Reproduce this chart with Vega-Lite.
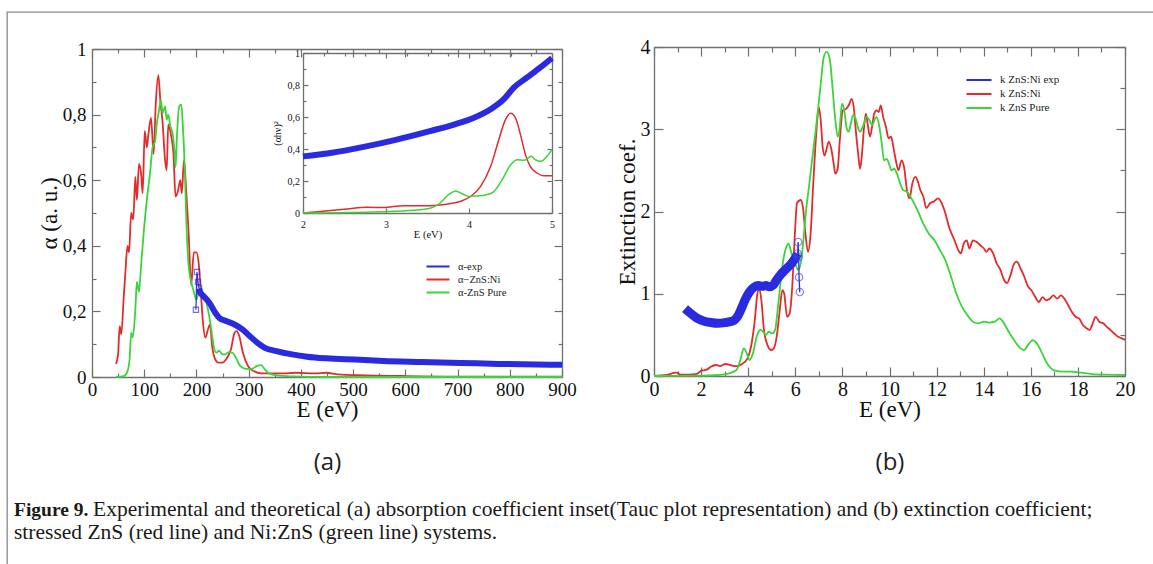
{
  "$schema": "https://vega.github.io/schema/vega-lite/v6.json",
  "width": 1151,
  "height": 557,
  "padding": {"left": 7, "top": 12, "right": -5, "bottom": -5},
  "autosize": {"type": "none"},
  "background": "white",
  "config": {
    "view": {"stroke": "#8a8a8a", "strokeWidth": 1.3},
    "locale": {"number": {"decimal": ",", "thousands": ".", "grouping": [3], "currency": ["", ""]}},
    "axis": {
      "grid": false,
      "domainColor": "#707070",
      "domainWidth": 1.3,
      "tickColor": "#707070",
      "tickWidth": 1.2,
      "labelFont": "Liberation Serif",
      "labelColor": "#111111",
      "labelFlush": false,
      "labelOverlap": false,
      "titleFont": "Liberation Serif",
      "titleFontWeight": "normal",
      "titleColor": "#111111"
    },
    "legend": {
      "orient": "none",
      "title": null,
      "symbolType": "stroke",
      "symbolStrokeWidth": 2.5,
      "labelFont": "Liberation Serif",
      "labelColor": "#222222",
      "padding": 0,
      "rowPadding": 0
    }
  },
  "datasets": {
    "absorption_theory": [
      {"series": "α−ZnS:Ni", "E": 46, "alpha": 0.04}, {"series": "α−ZnS:Ni", "E": 50, "alpha": 0.07},
      {"series": "α−ZnS:Ni", "E": 53, "alpha": 0.155}, {"series": "α−ZnS:Ni", "E": 56, "alpha": 0.13},
      {"series": "α−ZnS:Ni", "E": 61, "alpha": 0.25}, {"series": "α−ZnS:Ni", "E": 64, "alpha": 0.32},
      {"series": "α−ZnS:Ni", "E": 68, "alpha": 0.40}, {"series": "α−ZnS:Ni", "E": 71, "alpha": 0.38},
      {"series": "α−ZnS:Ni", "E": 75, "alpha": 0.50}, {"series": "α−ZnS:Ni", "E": 79, "alpha": 0.48},
      {"series": "α−ZnS:Ni", "E": 83, "alpha": 0.61}, {"series": "α−ZnS:Ni", "E": 86, "alpha": 0.54},
      {"series": "α−ZnS:Ni", "E": 90, "alpha": 0.65}, {"series": "α−ZnS:Ni", "E": 94, "alpha": 0.62},
      {"series": "α−ZnS:Ni", "E": 97, "alpha": 0.56}, {"series": "α−ZnS:Ni", "E": 101, "alpha": 0.75},
      {"series": "α−ZnS:Ni", "E": 105, "alpha": 0.70}, {"series": "α−ZnS:Ni", "E": 108, "alpha": 0.74},
      {"series": "α−ZnS:Ni", "E": 113, "alpha": 0.79}, {"series": "α−ZnS:Ni", "E": 118, "alpha": 0.68},
      {"series": "α−ZnS:Ni", "E": 122, "alpha": 0.83}, {"series": "α−ZnS:Ni", "E": 127, "alpha": 0.92},
      {"series": "α−ZnS:Ni", "E": 131, "alpha": 0.84}, {"series": "α−ZnS:Ni", "E": 135, "alpha": 0.78},
      {"series": "α−ZnS:Ni", "E": 140, "alpha": 0.66}, {"series": "α−ZnS:Ni", "E": 143, "alpha": 0.63},
      {"series": "α−ZnS:Ni", "E": 146, "alpha": 0.77}, {"series": "α−ZnS:Ni", "E": 151, "alpha": 0.74},
      {"series": "α−ZnS:Ni", "E": 156, "alpha": 0.68}, {"series": "α−ZnS:Ni", "E": 160, "alpha": 0.55},
      {"series": "α−ZnS:Ni", "E": 165, "alpha": 0.57}, {"series": "α−ZnS:Ni", "E": 169, "alpha": 0.60},
      {"series": "α−ZnS:Ni", "E": 172, "alpha": 0.56}, {"series": "α−ZnS:Ni", "E": 176, "alpha": 0.66},
      {"series": "α−ZnS:Ni", "E": 180, "alpha": 0.58}, {"series": "α−ZnS:Ni", "E": 185, "alpha": 0.44},
      {"series": "α−ZnS:Ni", "E": 190, "alpha": 0.28}, {"series": "α−ZnS:Ni", "E": 195, "alpha": 0.38},
      {"series": "α−ZnS:Ni", "E": 200, "alpha": 0.38}, {"series": "α−ZnS:Ni", "E": 204, "alpha": 0.35},
      {"series": "α−ZnS:Ni", "E": 208, "alpha": 0.27}, {"series": "α−ZnS:Ni", "E": 212, "alpha": 0.175},
      {"series": "α−ZnS:Ni", "E": 217, "alpha": 0.12}, {"series": "α−ZnS:Ni", "E": 222, "alpha": 0.145},
      {"series": "α−ZnS:Ni", "E": 226, "alpha": 0.16}, {"series": "α−ZnS:Ni", "E": 230, "alpha": 0.094},
      {"series": "α−ZnS:Ni", "E": 236, "alpha": 0.054}, {"series": "α−ZnS:Ni", "E": 242, "alpha": 0.044},
      {"series": "α−ZnS:Ni", "E": 250, "alpha": 0.044}, {"series": "α−ZnS:Ni", "E": 257, "alpha": 0.054},
      {"series": "α−ZnS:Ni", "E": 266, "alpha": 0.084}, {"series": "α−ZnS:Ni", "E": 273, "alpha": 0.135},
      {"series": "α−ZnS:Ni", "E": 277, "alpha": 0.14}, {"series": "α−ZnS:Ni", "E": 282, "alpha": 0.125},
      {"series": "α−ZnS:Ni", "E": 289, "alpha": 0.074}, {"series": "α−ZnS:Ni", "E": 299, "alpha": 0.033},
      {"series": "α−ZnS:Ni", "E": 310, "alpha": 0.018}, {"series": "α−ZnS:Ni", "E": 324, "alpha": 0.011},
      {"series": "α−ZnS:Ni", "E": 339, "alpha": 0.011}, {"series": "α−ZnS:Ni", "E": 368, "alpha": 0.011},
      {"series": "α−ZnS:Ni", "E": 390, "alpha": 0.013}, {"series": "α−ZnS:Ni", "E": 427, "alpha": 0.011},
      {"series": "α−ZnS:Ni", "E": 449, "alpha": 0.013}, {"series": "α−ZnS:Ni", "E": 470, "alpha": 0.008},
      {"series": "α−ZnS:Ni", "E": 522, "alpha": 0.005}, {"series": "α−ZnS:Ni", "E": 595, "alpha": 0.003},
      {"series": "α−ZnS:Ni", "E": 631, "alpha": 0.002}, {"series": "α−ZnS:Ni", "E": 700, "alpha": 0.001},
      {"series": "α−ZnS:Ni", "E": 900, "alpha": 0.001},
      {"series": "α-ZnS Pure", "E": 46, "alpha": 0}, {"series": "α-ZnS Pure", "E": 61, "alpha": 0.003},
      {"series": "α-ZnS Pure", "E": 68, "alpha": 0.018}, {"series": "α-ZnS Pure", "E": 72, "alpha": 0.054},
      {"series": "α-ZnS Pure", "E": 75, "alpha": 0.135}, {"series": "α-ZnS Pure", "E": 78, "alpha": 0.12},
      {"series": "α-ZnS Pure", "E": 83, "alpha": 0.206}, {"series": "α-ZnS Pure", "E": 86, "alpha": 0.29},
      {"series": "α-ZnS Pure", "E": 90, "alpha": 0.26}, {"series": "α-ZnS Pure", "E": 94, "alpha": 0.34},
      {"series": "α-ZnS Pure", "E": 99, "alpha": 0.44}, {"series": "α-ZnS Pure", "E": 105, "alpha": 0.54},
      {"series": "α-ZnS Pure", "E": 111, "alpha": 0.62}, {"series": "α-ZnS Pure", "E": 116, "alpha": 0.70},
      {"series": "α-ZnS Pure", "E": 121, "alpha": 0.72}, {"series": "α-ZnS Pure", "E": 124, "alpha": 0.77},
      {"series": "α-ZnS Pure", "E": 128, "alpha": 0.81}, {"series": "α-ZnS Pure", "E": 132, "alpha": 0.845},
      {"series": "α-ZnS Pure", "E": 135, "alpha": 0.805}, {"series": "α-ZnS Pure", "E": 140, "alpha": 0.825},
      {"series": "α-ZnS Pure", "E": 143, "alpha": 0.785}, {"series": "α-ZnS Pure", "E": 146, "alpha": 0.80},
      {"series": "α-ZnS Pure", "E": 150, "alpha": 0.765}, {"series": "α-ZnS Pure", "E": 154, "alpha": 0.745},
      {"series": "α-ZnS Pure", "E": 158, "alpha": 0.69}, {"series": "α-ZnS Pure", "E": 160, "alpha": 0.64},
      {"series": "α-ZnS Pure", "E": 163, "alpha": 0.745}, {"series": "α-ZnS Pure", "E": 167, "alpha": 0.825},
      {"series": "α-ZnS Pure", "E": 171, "alpha": 0.83}, {"series": "α-ZnS Pure", "E": 174, "alpha": 0.765},
      {"series": "α-ZnS Pure", "E": 178, "alpha": 0.62}, {"series": "α-ZnS Pure", "E": 181, "alpha": 0.46},
      {"series": "α-ZnS Pure", "E": 185, "alpha": 0.34}, {"series": "α-ZnS Pure", "E": 190, "alpha": 0.29},
      {"series": "α-ZnS Pure", "E": 195, "alpha": 0.26}, {"series": "α-ZnS Pure", "E": 200, "alpha": 0.235},
      {"series": "α-ZnS Pure", "E": 203, "alpha": 0.255}, {"series": "α-ZnS Pure", "E": 208, "alpha": 0.27},
      {"series": "α-ZnS Pure", "E": 213, "alpha": 0.257}, {"series": "α-ZnS Pure", "E": 218, "alpha": 0.235},
      {"series": "α-ZnS Pure", "E": 222, "alpha": 0.206}, {"series": "α-ZnS Pure", "E": 228, "alpha": 0.15},
      {"series": "α-ZnS Pure", "E": 233, "alpha": 0.094}, {"series": "α-ZnS Pure", "E": 238, "alpha": 0.074},
      {"series": "α-ZnS Pure", "E": 243, "alpha": 0.08}, {"series": "α-ZnS Pure", "E": 250, "alpha": 0.069},
      {"series": "α-ZnS Pure", "E": 256, "alpha": 0.069}, {"series": "α-ZnS Pure", "E": 262, "alpha": 0.076},
      {"series": "α-ZnS Pure", "E": 269, "alpha": 0.074}, {"series": "α-ZnS Pure", "E": 277, "alpha": 0.054},
      {"series": "α-ZnS Pure", "E": 284, "alpha": 0.033}, {"series": "α-ZnS Pure", "E": 295, "alpha": 0.025},
      {"series": "α-ZnS Pure", "E": 306, "alpha": 0.025}, {"series": "α-ZnS Pure", "E": 315, "alpha": 0.033},
      {"series": "α-ZnS Pure", "E": 324, "alpha": 0.036}, {"series": "α-ZnS Pure", "E": 331, "alpha": 0.023},
      {"series": "α-ZnS Pure", "E": 339, "alpha": 0.011}, {"series": "α-ZnS Pure", "E": 354, "alpha": 0.005},
      {"series": "α-ZnS Pure", "E": 383, "alpha": 0.002}, {"series": "α-ZnS Pure", "E": 450, "alpha": 0},
      {"series": "α-ZnS Pure", "E": 900, "alpha": 0}
    ],
    "absorption_exp": [
      {"E": 205, "alpha": 0.27}, {"E": 207, "alpha": 0.257}, {"E": 214, "alpha": 0.246}, {"E": 225, "alpha": 0.226},
      {"E": 236, "alpha": 0.196}, {"E": 244, "alpha": 0.18}, {"E": 258, "alpha": 0.17}, {"E": 273, "alpha": 0.16},
      {"E": 288, "alpha": 0.145}, {"E": 302, "alpha": 0.125}, {"E": 317, "alpha": 0.104}, {"E": 331, "alpha": 0.089},
      {"E": 353, "alpha": 0.079}, {"E": 383, "alpha": 0.069}, {"E": 412, "alpha": 0.062}, {"E": 449, "alpha": 0.057},
      {"E": 485, "alpha": 0.054}, {"E": 522, "alpha": 0.052}, {"E": 558, "alpha": 0.049}, {"E": 631, "alpha": 0.046},
      {"E": 705, "alpha": 0.043}, {"E": 778, "alpha": 0.040}, {"E": 851, "alpha": 0.038}, {"E": 900, "alpha": 0.037}
    ],
    "absorption_exp_markers": [
      {"E": 199, "alpha": 0.205}, {"E": 201, "alpha": 0.32}, {"E": 203, "alpha": 0.29}, {"E": 205, "alpha": 0.27}
    ],
    "tauc_theory": [
      {"series": "ZnS:Ni", "E": 2.0, "tauc": 0}, {"series": "ZnS:Ni", "E": 2.21, "tauc": 0.01},
      {"series": "ZnS:Ni", "E": 2.53, "tauc": 0.025}, {"series": "ZnS:Ni", "E": 2.77, "tauc": 0.036},
      {"series": "ZnS:Ni", "E": 2.97, "tauc": 0.034}, {"series": "ZnS:Ni", "E": 3.21, "tauc": 0.046},
      {"series": "ZnS:Ni", "E": 3.53, "tauc": 0.046}, {"series": "ZnS:Ni", "E": 3.73, "tauc": 0.055},
      {"series": "ZnS:Ni", "E": 3.90, "tauc": 0.073}, {"series": "ZnS:Ni", "E": 4.02, "tauc": 0.103},
      {"series": "ZnS:Ni", "E": 4.14, "tauc": 0.166}, {"series": "ZnS:Ni", "E": 4.26, "tauc": 0.29},
      {"series": "ZnS:Ni", "E": 4.36, "tauc": 0.46}, {"series": "ZnS:Ni", "E": 4.44, "tauc": 0.585},
      {"series": "ZnS:Ni", "E": 4.50, "tauc": 0.623}, {"series": "ZnS:Ni", "E": 4.56, "tauc": 0.595},
      {"series": "ZnS:Ni", "E": 4.62, "tauc": 0.49}, {"series": "ZnS:Ni", "E": 4.68, "tauc": 0.365},
      {"series": "ZnS:Ni", "E": 4.74, "tauc": 0.29}, {"series": "ZnS:Ni", "E": 4.82, "tauc": 0.25},
      {"series": "ZnS:Ni", "E": 4.90, "tauc": 0.233}, {"series": "ZnS:Ni", "E": 5.0, "tauc": 0.233},
      {"series": "ZnS Pure", "E": 2.0, "tauc": 0}, {"series": "ZnS Pure", "E": 2.93, "tauc": 0.008},
      {"series": "ZnS Pure", "E": 3.33, "tauc": 0.017}, {"series": "ZnS Pure", "E": 3.53, "tauc": 0.03},
      {"series": "ZnS Pure", "E": 3.65, "tauc": 0.061}, {"series": "ZnS Pure", "E": 3.75, "tauc": 0.113},
      {"series": "ZnS Pure", "E": 3.84, "tauc": 0.138}, {"series": "ZnS Pure", "E": 3.92, "tauc": 0.12},
      {"series": "ZnS Pure", "E": 4.0, "tauc": 0.103}, {"series": "ZnS Pure", "E": 4.10, "tauc": 0.107},
      {"series": "ZnS Pure", "E": 4.20, "tauc": 0.113}, {"series": "ZnS Pure", "E": 4.30, "tauc": 0.134},
      {"series": "ZnS Pure", "E": 4.40, "tauc": 0.208}, {"series": "ZnS Pure", "E": 4.50, "tauc": 0.30},
      {"series": "ZnS Pure", "E": 4.58, "tauc": 0.333}, {"series": "ZnS Pure", "E": 4.66, "tauc": 0.329},
      {"series": "ZnS Pure", "E": 4.75, "tauc": 0.354}, {"series": "ZnS Pure", "E": 4.80, "tauc": 0.333},
      {"series": "ZnS Pure", "E": 4.87, "tauc": 0.323}, {"series": "ZnS Pure", "E": 4.94, "tauc": 0.354},
      {"series": "ZnS Pure", "E": 5.0, "tauc": 0.396}
    ],
    "tauc_exp": [
      {"E": 2.0, "tauc": 0.354}, {"E": 2.33, "tauc": 0.375}, {"E": 2.73, "tauc": 0.413}, {"E": 3.13, "tauc": 0.459},
      {"E": 3.53, "tauc": 0.512}, {"E": 3.82, "tauc": 0.553}, {"E": 4.06, "tauc": 0.595}, {"E": 4.26, "tauc": 0.648},
      {"E": 4.42, "tauc": 0.711}, {"E": 4.54, "tauc": 0.784}, {"E": 4.70, "tauc": 0.847}, {"E": 4.86, "tauc": 0.91},
      {"E": 5.0, "tauc": 0.969}
    ],
    "extinction_theory": [
      {"series": "k ZnS:Ni", "E": 0, "k": 0}, {"series": "k ZnS:Ni", "E": 0.54, "k": 0.012},
      {"series": "k ZnS:Ni", "E": 0.93, "k": 0.04}, {"series": "k ZnS:Ni", "E": 1.17, "k": 0.016},
      {"series": "k ZnS:Ni", "E": 1.79, "k": 0.024}, {"series": "k ZnS:Ni", "E": 2.02, "k": 0.065},
      {"series": "k ZnS:Ni", "E": 2.26, "k": 0.08}, {"series": "k ZnS:Ni", "E": 2.41, "k": 0.113},
      {"series": "k ZnS:Ni", "E": 2.65, "k": 0.134}, {"series": "k ZnS:Ni", "E": 2.80, "k": 0.12},
      {"series": "k ZnS:Ni", "E": 3.03, "k": 0.146}, {"series": "k ZnS:Ni", "E": 3.27, "k": 0.13},
      {"series": "k ZnS:Ni", "E": 3.50, "k": 0.12}, {"series": "k ZnS:Ni", "E": 3.74, "k": 0.146},
      {"series": "k ZnS:Ni", "E": 3.97, "k": 0.215}, {"series": "k ZnS:Ni", "E": 4.12, "k": 0.356},
      {"series": "k ZnS:Ni", "E": 4.28, "k": 0.68}, {"series": "k ZnS:Ni", "E": 4.39, "k": 1.0},
      {"series": "k ZnS:Ni", "E": 4.47, "k": 1.065}, {"series": "k ZnS:Ni", "E": 4.56, "k": 0.92},
      {"series": "k ZnS:Ni", "E": 4.67, "k": 0.56}, {"series": "k ZnS:Ni", "E": 4.82, "k": 0.376},
      {"series": "k ZnS:Ni", "E": 4.98, "k": 0.316}, {"series": "k ZnS:Ni", "E": 5.09, "k": 0.336},
      {"series": "k ZnS:Ni", "E": 5.21, "k": 0.478}, {"series": "k ZnS:Ni", "E": 5.34, "k": 0.80},
      {"series": "k ZnS:Ni", "E": 5.45, "k": 1.045}, {"series": "k ZnS:Ni", "E": 5.53, "k": 1.0},
      {"series": "k ZnS:Ni", "E": 5.65, "k": 0.72}, {"series": "k ZnS:Ni", "E": 5.76, "k": 0.76},
      {"series": "k ZnS:Ni", "E": 5.87, "k": 1.085}, {"series": "k ZnS:Ni", "E": 5.99, "k": 1.77},
      {"series": "k ZnS:Ni", "E": 6.07, "k": 2.10}, {"series": "k ZnS:Ni", "E": 6.23, "k": 2.14},
      {"series": "k ZnS:Ni", "E": 6.33, "k": 2.04}, {"series": "k ZnS:Ni", "E": 6.43, "k": 1.73},
      {"series": "k ZnS:Ni", "E": 6.54, "k": 1.51}, {"series": "k ZnS:Ni", "E": 6.65, "k": 1.73},
      {"series": "k ZnS:Ni", "E": 6.77, "k": 2.38}, {"series": "k ZnS:Ni", "E": 6.89, "k": 2.95},
      {"series": "k ZnS:Ni", "E": 7.00, "k": 3.27}, {"series": "k ZnS:Ni", "E": 7.08, "k": 3.11},
      {"series": "k ZnS:Ni", "E": 7.16, "k": 2.79}, {"series": "k ZnS:Ni", "E": 7.24, "k": 2.68},
      {"series": "k ZnS:Ni", "E": 7.31, "k": 2.74}, {"series": "k ZnS:Ni", "E": 7.42, "k": 2.85},
      {"series": "k ZnS:Ni", "E": 7.52, "k": 2.77}, {"series": "k ZnS:Ni", "E": 7.63, "k": 2.58},
      {"series": "k ZnS:Ni", "E": 7.70, "k": 2.46}, {"series": "k ZnS:Ni", "E": 7.80, "k": 2.52},
      {"series": "k ZnS:Ni", "E": 7.89, "k": 2.87}, {"series": "k ZnS:Ni", "E": 8.02, "k": 3.23},
      {"series": "k ZnS:Ni", "E": 8.17, "k": 3.25}, {"series": "k ZnS:Ni", "E": 8.30, "k": 3.31},
      {"series": "k ZnS:Ni", "E": 8.39, "k": 3.37}, {"series": "k ZnS:Ni", "E": 8.48, "k": 3.27},
      {"series": "k ZnS:Ni", "E": 8.58, "k": 2.95}, {"series": "k ZnS:Ni", "E": 8.67, "k": 2.70},
      {"series": "k ZnS:Ni", "E": 8.75, "k": 2.52}, {"series": "k ZnS:Ni", "E": 8.82, "k": 2.66},
      {"series": "k ZnS:Ni", "E": 8.92, "k": 3.03}, {"series": "k ZnS:Ni", "E": 9.00, "k": 3.19},
      {"series": "k ZnS:Ni", "E": 9.07, "k": 3.07}, {"series": "k ZnS:Ni", "E": 9.17, "k": 2.91},
      {"series": "k ZnS:Ni", "E": 9.26, "k": 3.03}, {"series": "k ZnS:Ni", "E": 9.35, "k": 3.19},
      {"series": "k ZnS:Ni", "E": 9.45, "k": 3.23}, {"series": "k ZnS:Ni", "E": 9.54, "k": 3.21},
      {"series": "k ZnS:Ni", "E": 9.63, "k": 3.29}, {"series": "k ZnS:Ni", "E": 9.73, "k": 3.15},
      {"series": "k ZnS:Ni", "E": 9.85, "k": 3.03}, {"series": "k ZnS:Ni", "E": 9.96, "k": 2.89},
      {"series": "k ZnS:Ni", "E": 10.07, "k": 2.91}, {"series": "k ZnS:Ni", "E": 10.16, "k": 2.79},
      {"series": "k ZnS:Ni", "E": 10.27, "k": 2.62}, {"series": "k ZnS:Ni", "E": 10.38, "k": 2.50},
      {"series": "k ZnS:Ni", "E": 10.51, "k": 2.62}, {"series": "k ZnS:Ni", "E": 10.63, "k": 2.52},
      {"series": "k ZnS:Ni", "E": 10.74, "k": 2.26}, {"series": "k ZnS:Ni", "E": 10.85, "k": 2.16},
      {"series": "k ZnS:Ni", "E": 10.97, "k": 2.34}, {"series": "k ZnS:Ni", "E": 11.10, "k": 2.42},
      {"series": "k ZnS:Ni", "E": 11.21, "k": 2.36}, {"series": "k ZnS:Ni", "E": 11.31, "k": 2.26},
      {"series": "k ZnS:Ni", "E": 11.44, "k": 2.18}, {"series": "k ZnS:Ni", "E": 11.56, "k": 2.04},
      {"series": "k ZnS:Ni", "E": 11.72, "k": 2.10}, {"series": "k ZnS:Ni", "E": 11.88, "k": 2.12},
      {"series": "k ZnS:Ni", "E": 12.06, "k": 2.16}, {"series": "k ZnS:Ni", "E": 12.22, "k": 2.10},
      {"series": "k ZnS:Ni", "E": 12.37, "k": 1.98}, {"series": "k ZnS:Ni", "E": 12.53, "k": 1.81},
      {"series": "k ZnS:Ni", "E": 12.76, "k": 1.65}, {"series": "k ZnS:Ni", "E": 12.92, "k": 1.53},
      {"series": "k ZnS:Ni", "E": 13.03, "k": 1.49}, {"series": "k ZnS:Ni", "E": 13.15, "k": 1.61},
      {"series": "k ZnS:Ni", "E": 13.28, "k": 1.65}, {"series": "k ZnS:Ni", "E": 13.39, "k": 1.55},
      {"series": "k ZnS:Ni", "E": 13.54, "k": 1.65}, {"series": "k ZnS:Ni", "E": 13.70, "k": 1.63},
      {"series": "k ZnS:Ni", "E": 13.85, "k": 1.59}, {"series": "k ZnS:Ni", "E": 14.01, "k": 1.55},
      {"series": "k ZnS:Ni", "E": 14.12, "k": 1.51}, {"series": "k ZnS:Ni", "E": 14.24, "k": 1.55},
      {"series": "k ZnS:Ni", "E": 14.40, "k": 1.49}, {"series": "k ZnS:Ni", "E": 14.55, "k": 1.37},
      {"series": "k ZnS:Ni", "E": 14.71, "k": 1.29}, {"series": "k ZnS:Ni", "E": 14.86, "k": 1.17},
      {"series": "k ZnS:Ni", "E": 14.99, "k": 1.13}, {"series": "k ZnS:Ni", "E": 15.14, "k": 1.23},
      {"series": "k ZnS:Ni", "E": 15.30, "k": 1.37}, {"series": "k ZnS:Ni", "E": 15.41, "k": 1.39},
      {"series": "k ZnS:Ni", "E": 15.56, "k": 1.31}, {"series": "k ZnS:Ni", "E": 15.72, "k": 1.21},
      {"series": "k ZnS:Ni", "E": 15.88, "k": 1.09}, {"series": "k ZnS:Ni", "E": 16.03, "k": 1.04},
      {"series": "k ZnS:Ni", "E": 16.19, "k": 0.96}, {"series": "k ZnS:Ni", "E": 16.34, "k": 0.90},
      {"series": "k ZnS:Ni", "E": 16.50, "k": 0.96}, {"series": "k ZnS:Ni", "E": 16.65, "k": 0.92},
      {"series": "k ZnS:Ni", "E": 16.81, "k": 0.94}, {"series": "k ZnS:Ni", "E": 16.96, "k": 0.98},
      {"series": "k ZnS:Ni", "E": 17.12, "k": 0.94}, {"series": "k ZnS:Ni", "E": 17.28, "k": 0.98},
      {"series": "k ZnS:Ni", "E": 17.43, "k": 0.94}, {"series": "k ZnS:Ni", "E": 17.59, "k": 0.86},
      {"series": "k ZnS:Ni", "E": 17.74, "k": 0.78}, {"series": "k ZnS:Ni", "E": 17.90, "k": 0.72},
      {"series": "k ZnS:Ni", "E": 18.05, "k": 0.70}, {"series": "k ZnS:Ni", "E": 18.21, "k": 0.62},
      {"series": "k ZnS:Ni", "E": 18.37, "k": 0.58}, {"series": "k ZnS:Ni", "E": 18.49, "k": 0.56},
      {"series": "k ZnS:Ni", "E": 18.63, "k": 0.64}, {"series": "k ZnS:Ni", "E": 18.75, "k": 0.72},
      {"series": "k ZnS:Ni", "E": 18.91, "k": 0.66}, {"series": "k ZnS:Ni", "E": 19.07, "k": 0.64},
      {"series": "k ZnS:Ni", "E": 19.22, "k": 0.60}, {"series": "k ZnS:Ni", "E": 19.38, "k": 0.56},
      {"series": "k ZnS:Ni", "E": 19.53, "k": 0.52}, {"series": "k ZnS:Ni", "E": 19.69, "k": 0.48},
      {"series": "k ZnS:Ni", "E": 19.84, "k": 0.46}, {"series": "k ZnS:Ni", "E": 20.0, "k": 0.44},
      {"series": "k ZnS Pure", "E": 0, "k": 0}, {"series": "k ZnS Pure", "E": 1.95, "k": 0.004},
      {"series": "k ZnS Pure", "E": 2.72, "k": 0.012}, {"series": "k ZnS Pure", "E": 3.19, "k": 0.032},
      {"series": "k ZnS Pure", "E": 3.50, "k": 0.073}, {"series": "k ZnS Pure", "E": 3.69, "k": 0.215},
      {"series": "k ZnS Pure", "E": 3.81, "k": 0.336}, {"series": "k ZnS Pure", "E": 3.94, "k": 0.275},
      {"series": "k ZnS Pure", "E": 4.05, "k": 0.194}, {"series": "k ZnS Pure", "E": 4.20, "k": 0.275},
      {"series": "k ZnS Pure", "E": 4.36, "k": 0.478}, {"series": "k ZnS Pure", "E": 4.51, "k": 0.559},
      {"series": "k ZnS Pure", "E": 4.64, "k": 0.538}, {"series": "k ZnS Pure", "E": 4.75, "k": 0.498},
      {"series": "k ZnS Pure", "E": 4.87, "k": 0.538}, {"series": "k ZnS Pure", "E": 5.01, "k": 0.518},
      {"series": "k ZnS Pure", "E": 5.14, "k": 0.559}, {"series": "k ZnS Pure", "E": 5.25, "k": 0.80},
      {"series": "k ZnS Pure", "E": 5.37, "k": 1.125}, {"series": "k ZnS Pure", "E": 5.49, "k": 1.41},
      {"series": "k ZnS Pure", "E": 5.62, "k": 1.57}, {"series": "k ZnS Pure", "E": 5.71, "k": 1.61},
      {"series": "k ZnS Pure", "E": 5.84, "k": 1.49}, {"series": "k ZnS Pure", "E": 5.99, "k": 1.37},
      {"series": "k ZnS Pure", "E": 6.12, "k": 1.29}, {"series": "k ZnS Pure", "E": 6.23, "k": 1.37},
      {"series": "k ZnS Pure", "E": 6.33, "k": 1.61}, {"series": "k ZnS Pure", "E": 6.46, "k": 2.02},
      {"series": "k ZnS Pure", "E": 6.58, "k": 2.30}, {"series": "k ZnS Pure", "E": 6.71, "k": 2.62},
      {"series": "k ZnS Pure", "E": 6.85, "k": 2.95}, {"series": "k ZnS Pure", "E": 6.96, "k": 3.23},
      {"series": "k ZnS Pure", "E": 7.08, "k": 3.55}, {"series": "k ZnS Pure", "E": 7.21, "k": 3.88},
      {"series": "k ZnS Pure", "E": 7.33, "k": 3.94}, {"series": "k ZnS Pure", "E": 7.46, "k": 3.86},
      {"series": "k ZnS Pure", "E": 7.58, "k": 3.51}, {"series": "k ZnS Pure", "E": 7.70, "k": 3.11},
      {"series": "k ZnS Pure", "E": 7.80, "k": 2.91}, {"series": "k ZnS Pure", "E": 7.89, "k": 3.03},
      {"series": "k ZnS Pure", "E": 7.98, "k": 3.31}, {"series": "k ZnS Pure", "E": 8.08, "k": 3.23},
      {"series": "k ZnS Pure", "E": 8.17, "k": 3.03}, {"series": "k ZnS Pure", "E": 8.26, "k": 2.97},
      {"series": "k ZnS Pure", "E": 8.36, "k": 3.07}, {"series": "k ZnS Pure", "E": 8.45, "k": 3.17},
      {"series": "k ZnS Pure", "E": 8.56, "k": 3.13}, {"series": "k ZnS Pure", "E": 8.67, "k": 3.01},
      {"series": "k ZnS Pure", "E": 8.76, "k": 2.97}, {"series": "k ZnS Pure", "E": 8.89, "k": 3.05},
      {"series": "k ZnS Pure", "E": 9.03, "k": 3.15}, {"series": "k ZnS Pure", "E": 9.15, "k": 3.11},
      {"series": "k ZnS Pure", "E": 9.26, "k": 3.05}, {"series": "k ZnS Pure", "E": 9.39, "k": 3.13},
      {"series": "k ZnS Pure", "E": 9.45, "k": 3.15}, {"series": "k ZnS Pure", "E": 9.57, "k": 3.03},
      {"series": "k ZnS Pure", "E": 9.67, "k": 2.83}, {"series": "k ZnS Pure", "E": 9.77, "k": 2.62},
      {"series": "k ZnS Pure", "E": 9.88, "k": 2.64}, {"series": "k ZnS Pure", "E": 9.98, "k": 2.58},
      {"series": "k ZnS Pure", "E": 10.09, "k": 2.50}, {"series": "k ZnS Pure", "E": 10.19, "k": 2.52},
      {"series": "k ZnS Pure", "E": 10.32, "k": 2.46}, {"series": "k ZnS Pure", "E": 10.43, "k": 2.36},
      {"series": "k ZnS Pure", "E": 10.58, "k": 2.26}, {"series": "k ZnS Pure", "E": 10.74, "k": 2.24},
      {"series": "k ZnS Pure", "E": 10.97, "k": 2.14}, {"series": "k ZnS Pure", "E": 11.21, "k": 2.00},
      {"series": "k ZnS Pure", "E": 11.44, "k": 1.85}, {"series": "k ZnS Pure", "E": 11.67, "k": 1.73},
      {"series": "k ZnS Pure", "E": 11.91, "k": 1.65}, {"series": "k ZnS Pure", "E": 12.14, "k": 1.53},
      {"series": "k ZnS Pure", "E": 12.37, "k": 1.41}, {"series": "k ZnS Pure", "E": 12.61, "k": 1.21},
      {"series": "k ZnS Pure", "E": 12.84, "k": 1.00}, {"series": "k ZnS Pure", "E": 13.08, "k": 0.84},
      {"series": "k ZnS Pure", "E": 13.31, "k": 0.74}, {"series": "k ZnS Pure", "E": 13.54, "k": 0.66},
      {"series": "k ZnS Pure", "E": 13.77, "k": 0.64}, {"series": "k ZnS Pure", "E": 14.01, "k": 0.66},
      {"series": "k ZnS Pure", "E": 14.24, "k": 0.65}, {"series": "k ZnS Pure", "E": 14.47, "k": 0.66},
      {"series": "k ZnS Pure", "E": 14.68, "k": 0.70}, {"series": "k ZnS Pure", "E": 14.86, "k": 0.64},
      {"series": "k ZnS Pure", "E": 15.10, "k": 0.52}, {"series": "k ZnS Pure", "E": 15.33, "k": 0.42},
      {"series": "k ZnS Pure", "E": 15.56, "k": 0.336}, {"series": "k ZnS Pure", "E": 15.72, "k": 0.316},
      {"series": "k ZnS Pure", "E": 15.88, "k": 0.376}, {"series": "k ZnS Pure", "E": 16.08, "k": 0.437},
      {"series": "k ZnS Pure", "E": 16.26, "k": 0.397}, {"series": "k ZnS Pure", "E": 16.45, "k": 0.296},
      {"series": "k ZnS Pure", "E": 16.65, "k": 0.174}, {"series": "k ZnS Pure", "E": 16.86, "k": 0.093},
      {"series": "k ZnS Pure", "E": 17.04, "k": 0.065}, {"series": "k ZnS Pure", "E": 17.35, "k": 0.053},
      {"series": "k ZnS Pure", "E": 17.74, "k": 0.053}, {"series": "k ZnS Pure", "E": 18.13, "k": 0.040},
      {"series": "k ZnS Pure", "E": 18.60, "k": 0.024}, {"series": "k ZnS Pure", "E": 19.22, "k": 0.016},
      {"series": "k ZnS Pure", "E": 20.0, "k": 0.012}
    ],
    "extinction_exp": [
      {"E": 1.32, "k": 0.82}, {"E": 1.48, "k": 0.78}, {"E": 1.79, "k": 0.71}, {"E": 2.10, "k": 0.67},
      {"E": 2.41, "k": 0.65}, {"E": 2.72, "k": 0.64}, {"E": 3.03, "k": 0.65}, {"E": 3.35, "k": 0.67},
      {"E": 3.58, "k": 0.74}, {"E": 3.74, "k": 0.84}, {"E": 3.89, "k": 0.94}, {"E": 4.05, "k": 1.02},
      {"E": 4.25, "k": 1.08}, {"E": 4.44, "k": 1.10}, {"E": 4.59, "k": 1.09}, {"E": 4.75, "k": 1.10},
      {"E": 4.90, "k": 1.085}, {"E": 5.06, "k": 1.105}, {"E": 5.21, "k": 1.17}, {"E": 5.37, "k": 1.23},
      {"E": 5.53, "k": 1.28}, {"E": 5.68, "k": 1.32}, {"E": 5.84, "k": 1.37}, {"E": 5.99, "k": 1.43},
      {"E": 6.10, "k": 1.49}
    ],
    "extinction_exp_markers": [
      {"E": 6.10, "k": 1.49}, {"E": 6.12, "k": 1.63}, {"E": 6.14, "k": 1.45}, {"E": 6.16, "k": 1.20}, {"E": 6.19, "k": 1.02}
    ],
    "caption_head": [
      {"line": 1, "text": "Figure 9."}
    ],
    "caption_body": [
      {"line": 1, "text": "Experimental and theoretical (a) absorption coefficient inset(Tauc plot representation) and (b) extinction coefficient;"},
      {"line": 2, "text": "stressed ZnS (red line) and Ni:ZnS (green line) systems."}
    ]
  },
  "layer": [
    {
      "data": {"name": "absorption_theory"},
      "mark": {"type": "line", "strokeWidth": 1.8, "interpolate": "monotone"},
      "encoding": {
        "x": {
          "field": "E", "type": "quantitative",
          "scale": {"domain": [0, 900], "range": [85, 555], "nice": false, "zero": false},
          "axis": {
            "orient": "bottom", "offset": -192,
            "values": [0, 50, 100, 150, 200, 250, 300, 350, 400, 450, 500, 550, 600, 650, 700, 750, 800, 850, 900],
            "format": "d",
            "labelExpr": "datum.value % 100 === 0 ? datum.label : ''",
            "tickSize": {"condition": {"test": "datum.value % 100 === 0", "value": -8}, "value": -4},
            "labelFont": "Liberation Serif", "labelFontSize": 19, "labelPadding": 11.5,
            "title": "E (eV)", "titleFont": "Liberation Serif", "titleFontSize": 23, "titleY": 39, "titleBaseline": "alphabetic"
          }
        },
        "y": {
          "field": "alpha", "type": "quantitative",
          "scale": {"domain": [0, 1], "range": [365, 37], "nice": false, "zero": false},
          "axis": {
            "orient": "left", "offset": -85,
            "values": [0, 0.1, 0.2, 0.3, 0.4, 0.5, 0.6, 0.7, 0.8, 0.9, 1],
            "format": ".1~f",
            "labelExpr": "abs(datum.value * 5 - round(datum.value * 5)) < 0.001 ? datum.label : ''",
            "tickSize": {"condition": {"test": "abs(datum.value * 5 - round(datum.value * 5)) < 0.001", "value": -8}, "value": -4},
            "labelFont": "Liberation Serif", "labelFontSize": 19, "labelPadding": 14,
            "title": "α (a. u.)", "titleFont": "Liberation Serif", "titleFontSize": 23, "titleX": -36, "titleBaseline": "alphabetic"
          }
        },
        "color": {
          "field": "series", "type": "nominal",
          "scale": {"domain": ["α-exp", "α−ZnS:Ni", "α-ZnS Pure"], "range": ["#2a2ae0", "#e32b2b", "#3bd43b"]},
          "legend": {"legendX": 418, "legendY": 248, "symbolSize": 529, "symbolStrokeWidth": 2.2, "labelFont": "Liberation Serif", "labelFontSize": 10.5, "labelOffset": 7, "clipHeight": 13}
        }
      }
    },
    {
      "data": {"name": "absorption_exp"},
      "mark": {"type": "line", "color": "#2a2ae0", "strokeWidth": 6, "interpolate": "monotone"},
      "encoding": {
        "x": {
          "field": "E", "type": "quantitative",
          "scale": {"domain": [0, 900], "range": [85, 555], "nice": false, "zero": false},
          "axis": {
            "orient": "top", "offset": -37, "labels": false, "title": null,
            "values": [0, 50, 100, 150, 200, 250, 300, 350, 400, 450, 500, 550, 600, 650, 700, 750, 800, 850, 900],
            "tickSize": {"condition": {"test": "datum.value % 100 === 0", "value": -8}, "value": -4}
          }
        },
        "y": {
          "field": "alpha", "type": "quantitative",
          "scale": {"domain": [0, 1], "range": [365, 37], "nice": false, "zero": false},
          "axis": {
            "orient": "right", "offset": -596, "labels": false, "title": null,
            "values": [0, 0.1, 0.2, 0.3, 0.4, 0.5, 0.6, 0.7, 0.8, 0.9, 1],
            "tickSize": {"condition": {"test": "abs(datum.value * 5 - round(datum.value * 5)) < 0.001", "value": -8}, "value": -4}
          }
        }
      }
    },
    {
      "data": {"name": "absorption_exp_markers"},
      "mark": {"type": "line", "color": "#2a2ae0", "strokeWidth": 1.2},
      "encoding": {
        "x": {
          "field": "E", "type": "quantitative",
          "scale": {"domain": [0, 900], "range": [85, 555], "nice": false, "zero": false},
          "axis": {
            "orient": "bottom", "offset": -192, "domain": false, "ticks": false, "labels": false,
            "title": "(a)", "titleFont": "Open Sans", "titleFontSize": 24, "titleColor": "#222222",
            "titleY": 92, "titleBaseline": "alphabetic"
          }
        },
        "y": {
          "field": "alpha", "type": "quantitative",
          "scale": {"domain": [0, 1], "range": [365, 37], "nice": false, "zero": false},
          "axis": null
        }
      }
    },
    {
      "data": {"name": "absorption_exp_markers"},
      "mark": {"type": "point", "shape": "square", "filled": false, "size": 28, "stroke": "#2a2ae0", "strokeWidth": 1.1},
      "encoding": {
        "x": {"field": "E", "type": "quantitative", "scale": {"domain": [0, 900], "range": [85, 555], "nice": false, "zero": false}, "axis": null},
        "y": {"field": "alpha", "type": "quantitative", "scale": {"domain": [0, 1], "range": [365, 37], "nice": false, "zero": false}, "axis": null}
      }
    },
    {
      "data": {"name": "tauc_theory"},
      "mark": {"type": "line", "strokeWidth": 1.5, "interpolate": "monotone"},
      "encoding": {
        "x": {
          "field": "E", "type": "quantitative",
          "scale": {"domain": [2, 5], "range": [296, 545], "nice": false, "zero": false},
          "axis": {
            "orient": "bottom", "offset": -356,
            "values": [2, 2.25, 2.5, 2.75, 3, 3.25, 3.5, 3.75, 4, 4.25, 4.5, 4.75, 5],
            "format": "d",
            "labelExpr": "datum.value % 1 === 0 ? datum.label : ''",
            "tickSize": {"condition": {"test": "datum.value % 1 === 0", "value": -5}, "value": -3},
            "labelFont": "Liberation Serif", "labelFontSize": 10, "labelPadding": 11,
            "title": "E (eV)", "titleFont": "Liberation Serif", "titleFontSize": 10.5, "titleY": 24, "titleBaseline": "alphabetic"
          }
        },
        "y": {
          "field": "tauc", "type": "quantitative",
          "scale": {"domain": [0, 1], "range": [201, 41], "nice": false, "zero": false},
          "axis": {
            "orient": "left", "offset": -296,
            "values": [0, 0.1, 0.2, 0.3, 0.4, 0.5, 0.6, 0.7, 0.8, 0.9, 1],
            "format": ".1~f",
            "labelExpr": "abs(datum.value * 5 - round(datum.value * 5)) < 0.001 ? datum.label : ''",
            "tickSize": {"condition": {"test": "abs(datum.value * 5 - round(datum.value * 5)) < 0.001", "value": -5}, "value": -3},
            "labelFont": "Liberation Serif", "labelFontSize": 10, "labelPadding": 8.5,
            "title": "(αhν)²", "titleFont": "Liberation Serif", "titleFontSize": 10, "titleX": -23, "titleBaseline": "alphabetic"
          }
        },
        "color": {
          "field": "series", "type": "nominal",
          "scale": {"domain": ["ZnS:Ni", "ZnS Pure"], "range": ["#e32b2b", "#3bd43b"]},
          "legend": null
        }
      }
    },
    {
      "data": {"name": "tauc_exp"},
      "mark": {"type": "line", "color": "#2a2ae0", "strokeWidth": 6, "interpolate": "monotone"},
      "encoding": {
        "x": {
          "field": "E", "type": "quantitative",
          "scale": {"domain": [2, 5], "range": [296, 545], "nice": false, "zero": false},
          "axis": {
            "orient": "top", "offset": -41, "labels": false, "title": null,
            "values": [2, 2.25, 2.5, 2.75, 3, 3.25, 3.5, 3.75, 4, 4.25, 4.5, 4.75, 5],
            "tickSize": {"condition": {"test": "datum.value % 1 === 0", "value": -5}, "value": -3}
          }
        },
        "y": {
          "field": "tauc", "type": "quantitative",
          "scale": {"domain": [0, 1], "range": [201, 41], "nice": false, "zero": false},
          "axis": {
            "orient": "right", "offset": -606, "labels": false, "title": null,
            "values": [0, 0.1, 0.2, 0.3, 0.4, 0.5, 0.6, 0.7, 0.8, 0.9, 1],
            "tickSize": {"condition": {"test": "abs(datum.value * 5 - round(datum.value * 5)) < 0.001", "value": -5}, "value": -3}
          }
        }
      }
    },
    {
      "data": {"name": "extinction_theory"},
      "mark": {"type": "line", "strokeWidth": 1.8, "interpolate": "monotone"},
      "encoding": {
        "x": {
          "field": "E", "type": "quantitative",
          "scale": {"domain": [0, 20], "range": [647, 1118], "nice": false, "zero": false},
          "axis": {
            "orient": "bottom", "offset": -193,
            "values": [0, 1, 2, 3, 4, 5, 6, 7, 8, 9, 10, 11, 12, 13, 14, 15, 16, 17, 18, 19, 20],
            "format": "d",
            "labelExpr": "datum.value % 2 === 0 ? datum.label : ''",
            "tickSize": {"condition": {"test": "datum.value % 2 === 0", "value": -9}, "value": -5},
            "labelFont": "Liberation Serif", "labelFontSize": 20, "labelPadding": 12,
            "title": "E (eV)", "titleFont": "Liberation Serif", "titleFontSize": 23, "titleY": 40, "titleBaseline": "alphabetic"
          }
        },
        "y": {
          "field": "k", "type": "quantitative",
          "scale": {"domain": [0, 4], "range": [364, 35], "nice": false, "zero": false},
          "axis": {
            "orient": "left", "offset": -647,
            "values": [0, 0.5, 1, 1.5, 2, 2.5, 3, 3.5, 4],
            "format": "d",
            "labelExpr": "datum.value % 1 === 0 ? datum.label : ''",
            "tickSize": {"condition": {"test": "datum.value % 1 === 0", "value": -9}, "value": -5},
            "labelFont": "Liberation Serif", "labelFontSize": 20, "labelPadding": 13,
            "title": "Extinction coef.", "titleFont": "Liberation Serif", "titleFontSize": 23, "titleX": -20, "titleBaseline": "alphabetic"
          }
        },
        "color": {
          "field": "series", "type": "nominal",
          "scale": {"domain": ["k ZnS:Ni exp", "k ZnS:Ni", "k ZnS Pure"], "range": ["#2a2ae0", "#e32b2b", "#3bd43b"]},
          "legend": {"legendX": 958, "legendY": 61, "symbolSize": 625, "symbolStrokeWidth": 2.2, "labelFont": "Liberation Serif", "labelFontSize": 11, "labelOffset": 7, "clipHeight": 14}
        }
      }
    },
    {
      "data": {"name": "extinction_exp"},
      "mark": {"type": "line", "color": "#2a2ae0", "strokeWidth": 9, "interpolate": "monotone"},
      "encoding": {
        "x": {
          "field": "E", "type": "quantitative",
          "scale": {"domain": [0, 20], "range": [647, 1118], "nice": false, "zero": false},
          "axis": {
            "orient": "top", "offset": -35, "labels": false, "title": null,
            "values": [0, 1, 2, 3, 4, 5, 6, 7, 8, 9, 10, 11, 12, 13, 14, 15, 16, 17, 18, 19, 20],
            "tickSize": {"condition": {"test": "datum.value % 2 === 0", "value": -9}, "value": -5}
          }
        },
        "y": {
          "field": "k", "type": "quantitative",
          "scale": {"domain": [0, 4], "range": [364, 35], "nice": false, "zero": false},
          "axis": {
            "orient": "right", "offset": -33, "labels": false, "title": null,
            "values": [0, 0.5, 1, 1.5, 2, 2.5, 3, 3.5, 4],
            "tickSize": {"condition": {"test": "datum.value % 1 === 0", "value": -9}, "value": -5}
          }
        }
      }
    },
    {
      "data": {"name": "extinction_exp_markers"},
      "mark": {"type": "line", "color": "#2a2ae0", "strokeWidth": 1.3},
      "encoding": {
        "x": {
          "field": "E", "type": "quantitative",
          "scale": {"domain": [0, 20], "range": [647, 1118], "nice": false, "zero": false},
          "axis": {
            "orient": "bottom", "offset": -193, "domain": false, "ticks": false, "labels": false,
            "title": "(b)", "titleFont": "Open Sans", "titleFontSize": 24, "titleColor": "#222222",
            "titleY": 93, "titleBaseline": "alphabetic"
          }
        },
        "y": {"field": "k", "type": "quantitative", "scale": {"domain": [0, 4], "range": [364, 35], "nice": false, "zero": false}, "axis": null}
      }
    },
    {
      "data": {"name": "extinction_exp_markers"},
      "mark": {"type": "point", "shape": "circle", "filled": false, "size": 55, "stroke": "#4a4ae6", "strokeWidth": 1.1},
      "encoding": {
        "x": {"field": "E", "type": "quantitative", "scale": {"domain": [0, 20], "range": [647, 1118], "nice": false, "zero": false}, "axis": null},
        "y": {"field": "k", "type": "quantitative", "scale": {"domain": [0, 4], "range": [364, 35], "nice": false, "zero": false}, "axis": null}
      }
    },
    {
      "data": {"name": "caption_head"},
      "mark": {"type": "text", "align": "left", "baseline": "alphabetic", "font": "Liberation Serif", "fontSize": 19.5, "fontWeight": "bold", "color": "#1a1a1a"},
      "encoding": {
        "x": {"field": "line", "type": "ordinal", "scale": {"type": "point", "domain": [1, 2], "range": [7, 80], "padding": 0}, "axis": null},
        "y": {"field": "line", "type": "ordinal", "scale": {"type": "point", "domain": [1, 2], "range": [504, 527], "padding": 0}, "axis": null},
        "text": {"field": "text"}
      }
    },
    {
      "data": {"name": "caption_body"},
      "mark": {"type": "text", "align": "left", "baseline": "alphabetic", "font": "Liberation Serif", "fontSize": 21.5, "color": "#1a1a1a"},
      "encoding": {
        "x": {"field": "line", "type": "ordinal", "scale": {"type": "point", "domain": [1, 2], "range": [86, 7], "padding": 0}, "axis": null},
        "y": {"field": "line", "type": "ordinal", "scale": {"type": "point", "domain": [1, 2], "range": [504, 527], "padding": 0}, "axis": null},
        "text": {"field": "text"}
      }
    }
  ],
  "resolve": {
    "scale": {"x": "independent", "y": "independent", "color": "independent"},
    "axis": {"x": "independent", "y": "independent"},
    "legend": {"color": "independent"}
  }
}
